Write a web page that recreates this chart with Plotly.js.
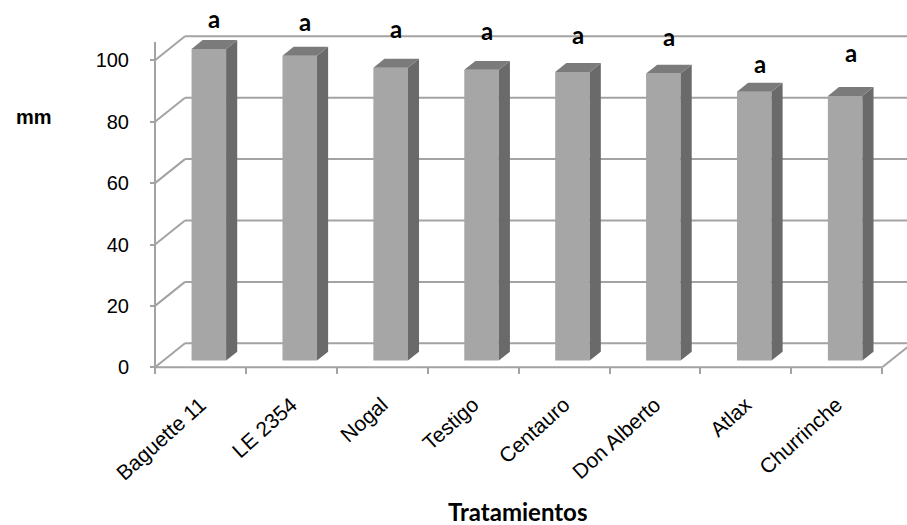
<!DOCTYPE html>
<html>
<head>
<meta charset="utf-8">
<script src="https://cdn.plot.ly/plotly-3.0.1.min.js"></script>
<style>
  html, body { margin: 0; padding: 0; background: #ffffff; }
  #chart { width: 907px; height: 525px; }
</style>
</head>
<body>
<div id="chart"></div>
<script>
// Plant height (mm) per treatment, with the significance letter above each bar
const categories = ['Baguette 11', 'LE 2354', 'Nogal', 'Testigo', 'Centauro', 'Don Alberto', 'Atlax', 'Churrinche'];
const values = [101.5, 99.3, 95.4, 94.7, 94.0, 93.5, 87.6, 86.2];
const letters = ['a', 'a', 'a', 'a', 'a', 'a', 'a', 'a'];
const yTicks = [0, 20, 40, 60, 80, 100];

// ---- oblique 3-D box geometry (page pixels -> axis units) ----
const W = 907, H = 525;
const pxPerCat = 90.9, pxPerUnit = 3.07;
const origin = { x: 155, y: 367.3 };           // front-left corner of the floor
const depthX = 30 / pxPerCat;                   // full box depth, x component
const depthY = 24 / pxPerUnit;                  // full box depth, y component
const barFront = 0.28, barDepth = 0.37, barWidth = 0.38;

const margin = { l: 145, r: 0, t: 10, b: 153 };
const plotW = W - margin.l - margin.r;
const plotH = H - margin.t - margin.b;
const xStart = -0.5 - (origin.x - margin.l) / pxPerCat;
const xRange = [xStart, xStart + plotW / pxPerCat];
const yStart = -((H - margin.b) - origin.y) / pxPerUnit;
const yRange = [yStart, yStart + plotH / pxPerUnit];
const xAxisPos = ((H - margin.b) - origin.y) / plotH;
const yAxisPos = (origin.x - margin.l) / plotW;

const n = categories.length;
const idx = categories.map((_, i) => i);
const xLeftEdge = -0.5, xRightEdge = n - 0.5;

// bar front faces sit a little way into the box
const sx = barFront * depthX, sy = barFront * depthY;
const ddx = barDepth * depthX, ddy = barDepth * depthY;

const FRONT = '#a6a6a6', SIDE = '#6a6a6a', TOP = '#7b7b7b', GRID = '#a3a3a3';

const sideX = [], sideY = [], topX = [], topY = [];
values.forEach((v, k) => {
  const xl = k + sx - barWidth / 2, xr = xl + barWidth;
  sideX.push(xr, xr + ddx, xr + ddx, xr, xr, null);
  sideY.push(sy, sy + ddy, sy + v + ddy, sy + v, sy, null);
  topX.push(xl, xr, xr + ddx, xl + ddx, xl, null);
  topY.push(sy + v, sy + v, sy + v + ddy, sy + v + ddy, sy + v, null);
});

const traces = [
  {
    type: 'bar', x: idx, y: values, base: sy, width: barWidth, offset: sx - barWidth / 2,
    marker: { color: FRONT, line: { width: 0 } }, hoverinfo: 'skip', showlegend: false
  },
  {
    type: 'scatter', mode: 'lines', x: sideX, y: sideY, fill: 'toself', fillcolor: SIDE,
    line: { width: 0, color: SIDE }, hoverinfo: 'skip', showlegend: false
  },
  {
    type: 'scatter', mode: 'lines', x: topX, y: topY, fill: 'toself', fillcolor: TOP,
    line: { width: 0, color: TOP }, hoverinfo: 'skip', showlegend: false,
    xaxis: 'x2'
  }
];

// walls, floor and gridlines of the box, drawn behind the bars
const shapes = [];
const seg = (xa, ya, xb, yb) => shapes.push({
  type: 'line', xref: 'x', yref: 'y', layer: 'below',
  x0: xa, y0: ya, x1: xb, y1: yb, line: { color: GRID, width: 2 }
});
yTicks.forEach(v => {
  seg(xLeftEdge + depthX, v + depthY, xRightEdge + depthX, v + depthY);   // back wall
  seg(xLeftEdge, v, xLeftEdge + depthX, v + depthY);                       // side wall
});
seg(xLeftEdge, 0, xLeftEdge, 106);                                         // value axis line
seg(xLeftEdge, 0, xRightEdge, 0);                                          // floor front edge
seg(xRightEdge, 0, xRightEdge + depthX, depthY);                           // floor right edge

const SANS = 'Liberation Sans';
const HEAD = 'Lato';

const annotations = [];
// letters above the bars (nudged in pixels like hand-placed text boxes)
const letterShift = [5, 9, 14, 14, 12, 12, 3, 18];
letters.forEach((t, k) => annotations.push({
  xref: 'x', yref: 'y', x: k + sx + ddx / 2, y: sy + values[k] + ddy,
  text: '<b>' + t + '</b>', showarrow: false, xanchor: 'center', yanchor: 'bottom', yshift: letterShift[k],
  font: { family: HEAD, size: 24, color: '#000000' }
}));
const px2paperX = p => (p - margin.l) / plotW;
const px2paperY = p => ((H - margin.b) - p) / plotH;
annotations.push({
  xref: 'paper', yref: 'paper', x: px2paperX(34), y: px2paperY(117),
  text: '<b>mm</b>', showarrow: false, xanchor: 'center', yanchor: 'middle',
  font: { family: SANS, size: 20, color: '#000000' }
});
annotations.push({
  xref: 'paper', yref: 'paper', x: px2paperX(517), y: px2paperY(511),
  text: '<b>Tratamientos</b>', showarrow: false, xanchor: 'center', yanchor: 'middle',
  font: { family: HEAD, size: 24, color: '#000000' }
});

const tickFont = { family: SANS, size: 20, color: '#000000' };
const catFont = { family: SANS, size: 21, color: '#000000' };

const layout = {
  width: W, height: H, margin: margin,
  paper_bgcolor: '#ffffff', plot_bgcolor: '#ffffff',
  showlegend: false,
  xaxis: {
    range: xRange, tickmode: 'array', tickvals: idx, ticktext: categories,
    tickangle: -42, ticks: 'outside', ticklen: 16, tickcolor: 'rgba(0,0,0,0)',
    showline: false, showgrid: false, zeroline: false,
    anchor: 'free', position: xAxisPos, tickfont: catFont,
    fixedrange: true
  },
  xaxis2: {
    overlaying: 'x', range: xRange, tickmode: 'array',
    tickvals: idx.concat([n]).map(i => i - 0.5),
    ticks: 'outside', ticklen: 6, tickwidth: 2, tickcolor: GRID,
    showticklabels: false, showline: false, showgrid: false, zeroline: false,
    anchor: 'free', position: xAxisPos, fixedrange: true
  },
  yaxis: {
    range: yRange, tickmode: 'array', tickvals: yTicks,
    ticks: 'outside', ticklen: 5, tickwidth: 2, tickcolor: GRID,
    showline: false, showgrid: false, zeroline: false,
    anchor: 'free', position: yAxisPos, tickfont: tickFont, ticklabelstandoff: 17,
    fixedrange: true
  },
  shapes: shapes,
  annotations: annotations
};

Plotly.newPlot('chart', traces, layout, { staticPlot: true, displayModeBar: false });
</script>
</body>
</html>
